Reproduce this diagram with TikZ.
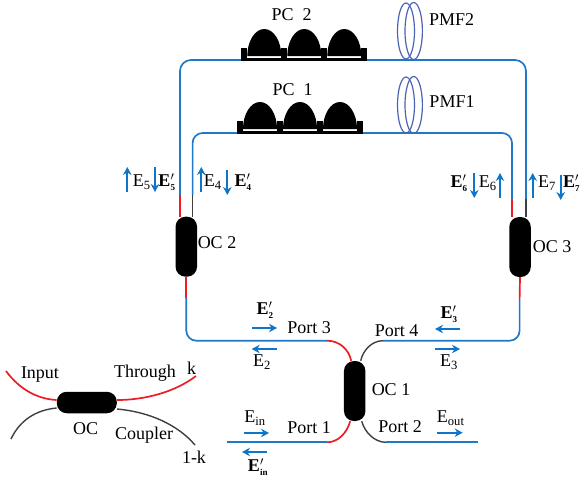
\documentclass[tikz,border=0pt]{standalone}
\usepackage{fontspec}
\setmainfont{Liberation Serif}
\usetikzlibrary{positioning, calc, arrows.meta}

\definecolor{wireblue}{HTML}{1F78C8}
\definecolor{wirered}{HTML}{EE1C25}
\definecolor{wiregray}{HTML}{404040}
\definecolor{fieldblue}{HTML}{0F75C8}
\definecolor{coilblue}{HTML}{4A63B5}

\newcommand{\Ef}[1]{E\textsubscript{#1}}
\newcommand{\Eb}[1]{$\mathbf{E}'_{\scriptscriptstyle\mathbf{#1}}$}

\begin{document}
\begin{tikzpicture}[
    x=1pt, y=-1pt,
    >=Stealth,
    font=\fontsize{18}{20}\selectfont,
    coupler/.style={
        rectangle, fill=black, inner sep=0pt,
        rounded corners=10pt
    },
    couplerV/.style={coupler, minimum width=21.5pt, minimum height=60pt},
    couplerH/.style={coupler, minimum width=60pt, minimum height=21.5pt},
    lab/.style={inner sep=0pt, anchor=center},
    fiber/.style={line width=1.7pt, wireblue},
    fiberred/.style={line width=1.7pt, wirered},
    fibergray/.style={line width=1.4pt, wiregray},
    field/.style={-{Stealth[length=8pt,width=8.5pt]}, line width=1.9pt, fieldblue},
    coil/.style={draw=coilblue, line width=1.2pt}
]
\useasboundingbox (0,0) rectangle (583,480);

%% --- COUPLERS ---

\node[couplerV] (oc1) at (354.7,391) {};
\node[couplerV] (oc2) at (186.3,246.7) {};
\node[couplerV] (oc3) at (520,247) {};
\node[couplerH] (oc)  at (86.8,402.5) {};

%% --- FIBER ENDS ---

\coordinate (p1) at (327,442.3);
\coordinate (p2) at (386,442.3);
\coordinate (p3) at (327,340.7);
\coordinate (p4) at (383,340.7);
\coordinate (in) at (226.7,442.3);
\coordinate (out) at (478,442.3);
\coordinate (oc2low) at (186.3,298);
\coordinate (oc3low) at (519.6,299);
\coordinate (oc2a) at (180,195);
\coordinate (oc2b) at (192.6,195);
\coordinate (oc3a) at (512,199);
\coordinate (oc3b) at (526,199);
\coordinate (topa) at (300,60);
\coordinate (topb) at (300,133);

%% --- LOOP ---

\draw[fiber] (in) -- (p1);
\draw[fiber] (p2) -- (out);
\draw[fiber, rounded corners=10pt] (p3) -| (oc2low);
\draw[fiber, rounded corners=10pt] (p4) -| (oc3low);
\draw[fiber, rounded corners=11pt] (oc2a) |- (topa) -| (oc3b);
\draw[fiber, rounded corners=10pt] (oc2b) |- (topb) -| (oc3a);

%% --- COUPLER PIGTAILS ---

\draw[fiberred] (p3) .. controls (340,340.7) and (349,350) .. ($(oc1.north)+(-3.5,0)$);
\draw[fibergray] ($(oc1.north)+(6,0)$) .. controls (363,350) and (372,340.7) .. (p4);
\draw[fiberred] ($(oc1.south)+(-4.5,0)$) .. controls (347,433) and (338,442.3) .. (p1);
\draw[fibergray] ($(oc1.south)+(7,0)$) .. controls (365,433) and (375,442.3) .. (p2);

\draw[fiberred] (oc2a) -- (oc2a |- oc2.north);
\draw[fibergray] (oc2b) -- (oc2b |- oc2.north);
\draw[fiberred] (oc2.south) -- (oc2low);

\draw[fiberred] (oc3a) -- (oc3a |- oc3.north);
\draw[fibergray] (oc3b) -- (oc3b |- oc3.north);
\draw[fiberred] (oc3.south) -- (oc3low);

%% --- LEGEND COUPLER ---

\coordinate (inp) at (6,371);
\coordinate (thr) at (196,376);
\coordinate (cpa) at (11,439);
\coordinate (cpb) at (195,445);

\draw[fiberred] (inp) .. controls (20,390) and (38,399) .. ($(oc.west)+(0,-2.5)$);
\draw[fiberred] ($(oc.east)+(0,-2.5)$) .. controls (145,400) and (175,392) .. (thr);
\draw[fibergray] (cpa) .. controls (20,420) and (36,410) .. ($(oc.west)+(0,5.5)$);
\draw[fibergray] ($(oc.east)+(0,6.5)$) .. controls (150,412) and (178,425) .. (cpb);

%% --- POLARIZATION CONTROLLERS ---

\foreach \name/\x/\y in {pctwo/241/61, pcone/236.7/134} {
    \fill[black] (\x,\y-3) rectangle (\x+125.7,\y);
    \fill[white] (\x+6,\y-5) rectangle (\x+119.7,\y-2.7);
    \foreach \i in {0,40,80,120} {
        \fill[black] (\x+\i,\y-13) rectangle (\x+\i+6,\y);
    }
    \foreach \i in {23.3,63.3,103.3} {
        \fill[black] (\x+\i-17,\y-5) arc[start angle=180, end angle=360, x radius=17, y radius=27] -- cycle;
    }
}

%% --- FIBER COILS ---

\foreach \cy in {31,105} {
    \draw[coil] (406,\cy) ellipse (8.5pt and 28pt);
    \draw[coil] (413.7,\cy) ellipse (8.7pt and 28.5pt);
}

%% --- LABELS ---

\node[lab] (pc2)  at (291.7,15)  {PC\ \ 2};
\node[lab] (pc1)  at (292.7,90)  {PC\ \ 1};
\node[lab] (pmf2) at (451.7,20)  {PMF2};
\node[lab] (pmf1) at (452,101.7) {PMF1};

\node[lab] (loc1) at (391,390)   {OC 1};
\node[lab] (loc2) at (217,243)   {OC 2};
\node[lab] (loc3) at (552,247)   {OC 3};

\node[lab] (port1) at (309,428)   {Port 1};
\node[lab] (port2) at (400,427)   {Port 2};
\node[lab] (port3) at (309,328)   {Port 3};
\node[lab] (port4) at (396.7,330.7) {Port 4};

\node[lab] (linput) at (40,375)   {Input};
\node[lab] (lthr)   at (145,373)  {Through};
\node[lab] (lk)     at (191.7,368) {k};
\node[lab] (loc)    at (85.7,429) {OC};
\node[lab] (lcoup)  at (144,435)  {Coupler};
\node[lab] (lkk)    at (194,457)  {1-k};

\node[lab] (e2)   at (262,362)   {\Ef{2}};
\node[lab] (e2p)  at (265,310)   {\Eb{2}};
\node[lab] (e3)   at (449,362)   {\Ef{3}};
\node[lab] (e3p)  at (449,314)   {\Eb{3}};
\node[lab] (e4)   at (212.7,182) {\Ef{4}};
\node[lab] (e4p)  at (243,182)   {\Eb{4}};
\node[lab] (e5)   at (141.7,182) {\Ef{5}};
\node[lab] (e5p)  at (167,182)   {\Eb{5}};
\node[lab] (e6)   at (487.7,183) {\Ef{6}};
\node[lab] (e6p)  at (459,183)   {\Eb{6}};
\node[lab] (e7)   at (547,183)   {\Ef{7}};
\node[lab] (e7p)  at (571.7,183) {\Eb{7}};
\node[lab] (ein)  at (255,418)   {\Ef{in}};
\node[lab] (einp) at (258,467)   {\Eb{in}};
\node[lab] (eout) at (450.7,418) {\Ef{out}};

%% --- FIELD ARROWS ---

\foreach \nm/\xa/\ya/\xb/\yb in {
    atwo/276.7/349/251.7/349, atwop/252/328/277/328,
    athree/435/349/460/349, athreep/460/329/435/329,
    afour/201.3/192/201.3/167, afourp/227.3/170/227.3/195,
    afive/127.3/192/127.3/167, afivep/155/167/155/192,
    asix/500/198/500/173, asixp/474.3/173/474.3/198,
    aseven/532.7/198/532.7/173, asevenp/560.7/175/560.7/200,
    ain/244/433/269/433, ainp/267/452/242/452,
    aout/437/432.7/462.7/432.7} {
    \coordinate (\nm s) at (\xa,\ya);
    \coordinate (\nm e) at (\xb,\yb);
    \draw[field] (\nm s) -- (\nm e);
}

\end{tikzpicture}
\end{document}
